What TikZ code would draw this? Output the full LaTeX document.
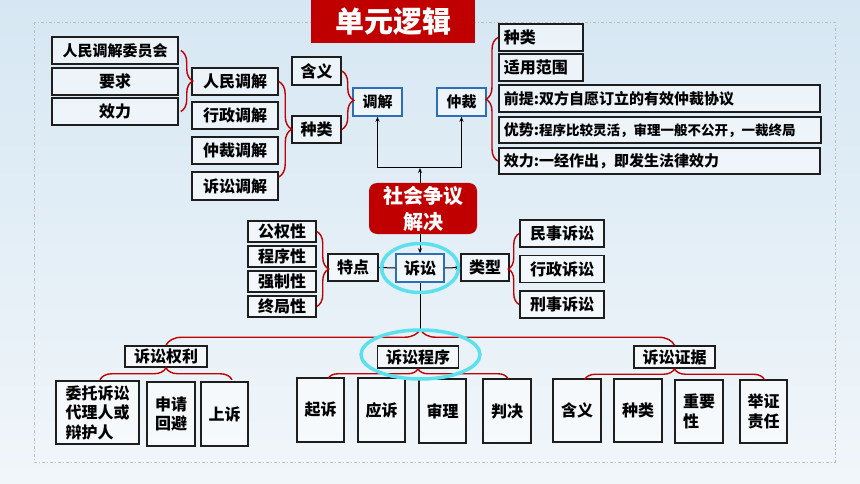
\documentclass[tikz,border=0pt]{standalone}
\usepackage{fontspec}
\setmainfont{Noto Sans CJK SC}
\usetikzlibrary{arrows.meta,decorations.pathreplacing,calc}
\definecolor{bgtop}{RGB}{214,231,243}
\definecolor{bgbot}{RGB}{241,246,250}
\definecolor{darkred}{RGB}{192,0,0}
\definecolor{boxline}{RGB}{30,30,30}
\definecolor{bluel}{RGB}{46,110,180}
\definecolor{cyanl}{RGB}{92,224,238}
\definecolor{frameg}{RGB}{185,190,195}
\begin{document}
\begin{tikzpicture}[x=1pt,y=-1pt,
  box/.style={draw=boxline, line width=1.5pt, fill=white, fill opacity=0.5, text opacity=1,
    inner sep=0pt, font=\fontsize{16}{19.5}\selectfont\bfseries, text=black, align=center},
  bbox/.style={box, draw=bluel},
  lbox/.style={box, anchor=west, align=left, inner xsep=5pt},
  rbrace/.style={draw=darkred, line width=1.4pt, decorate, decoration={brace, amplitude=#1}},
  arr/.style={draw=black, line width=1pt, -{Stealth[length=5pt,width=4pt]}},
  ring/.style={draw=cyanl, line width=3.5pt},
  f15/.style={font=\fontsize{15}{18}\selectfont\bfseries}
]
\useasboundingbox (0,0) rectangle (860,484);
\fill[top color=bgtop, bottom color=bgbot] (0,0) rectangle (860,484);
\draw[frameg, line width=0.8pt, dash pattern=on 3pt off 2pt on 1pt off 2pt] (34,22) rectangle (835,462);

% title
\node[draw=none, fill=darkred, text=white, inner sep=0pt, font=\fontsize{29}{34}\selectfont\bfseries,
  minimum width=164pt, minimum height=43pt] (title) at (393,21.5) {单元逻辑};

% left top
\node[box, f15, minimum width=126pt, minimum height=27pt] (m1) at (115,50.5) {人民调解委员会};
\node[box, minimum width=126pt, minimum height=27pt] (m2) at (115,81.5) {要求};
\node[box, minimum width=126pt, minimum height=27pt] (m3) at (115,111.5) {效力};
\node[box, minimum width=86pt, minimum height=27pt] (t1) at (235,81.5) {人民调解};
\node[box, minimum width=86pt, minimum height=27pt] (t2) at (235,115.5) {行政调解};
\node[box, minimum width=86pt, minimum height=27pt] (t3) at (235,150.5) {仲裁调解};
\node[box, minimum width=86pt, minimum height=28pt] (t4) at (235,186) {诉讼调解};
\node[box, minimum width=49pt, minimum height=28pt] (hy) at (316.5,71) {含义};
\node[box, minimum width=49pt, minimum height=27pt] (zl) at (316.5,129.5) {种类};
\node[bbox, f15, minimum width=49pt, minimum height=28pt] (tj) at (377.5,102) {调解};
\node[bbox, f15, minimum width=49pt, minimum height=28pt] (zc) at (461.5,102) {仲裁};

% right top
\node[lbox, text width=74pt, minimum height=27pt] (r1) at (498,37.5) {种类};
\node[lbox, text width=74pt, minimum height=27pt] (r2) at (498,67.5) {适用范围};
\node[lbox, f15, text width=311pt, minimum height=27pt] (r3) at (498,98.5) {前提:双方自愿订立的有效仲裁协议};
\node[lbox, f15, text width=312pt, minimum height=26pt] (r4) at (498,130) {优势:{\fontsize{13.5}{16}\selectfont 程序比较灵活，审理一般不公开，一裁终局}};
\node[lbox, f15, text width=311pt, minimum height=26pt] (r5) at (498,161) {效力:一经作出，即发生法律效力};

% centre
\node[draw=none, fill=darkred, rounded corners=8pt, text=white, inner sep=0pt, align=center,
  font=\fontsize{20}{26}\selectfont\bfseries, minimum width=108pt, minimum height=51pt] (sj) at (423,208.5) {社会争议\\解决};
\node[bbox, minimum width=48pt, minimum height=28pt] (ss) at (420,268) {诉讼};
\node[box, minimum width=50pt, minimum height=27pt] (td) at (353,267.5) {特点};
\node[box, minimum width=48pt, minimum height=27pt] (lx) at (485,267.5) {类型};
\node[box, minimum width=68pt, minimum height=21pt] (f1) at (282,231.5) {公权性};
\node[box, minimum width=68pt, minimum height=21pt] (f2) at (282,256.5) {程序性};
\node[box, minimum width=68pt, minimum height=21pt] (f3) at (282,281.5) {强制性};
\node[box, minimum width=68pt, minimum height=21pt] (f4) at (282,306.5) {终局性};
\node[box, minimum width=84pt, minimum height=27pt] (y1) at (562,233.5) {民事诉讼};
\node[box, minimum width=84pt, minimum height=27pt] (y2) at (562,269) {行政诉讼};
\node[box, minimum width=84pt, minimum height=27pt] (y3) at (562,304.5) {刑事诉讼};

% level 2
\node[box, minimum width=82pt, minimum height=21pt] (q1) at (166,356.5) {诉讼权利};
\node[box, minimum width=81pt, minimum height=22pt] (q2) at (418,357) {诉讼程序};
\node[box, minimum width=81pt, minimum height=22pt] (q3) at (674.5,357) {诉讼证据};

% level 3
\node[box, align=left, minimum width=83pt, minimum height=63pt] (a1) at (97.5,412.5) {委托诉讼\\代理人或\\辩护人};
\node[box, minimum width=48pt, minimum height=64pt] (a2) at (171,414) {申请\\回避};
\node[box, minimum width=47pt, minimum height=64pt] (a3) at (224.5,414) {上诉};
\node[box, minimum width=47pt, minimum height=64pt] (b1) at (320.5,410) {起诉};
\node[box, minimum width=47pt, minimum height=64pt] (b2) at (381.5,410) {应诉};
\node[box, minimum width=47pt, minimum height=64pt] (b3) at (442.5,411) {审理};
\node[box, minimum width=48pt, minimum height=64pt] (b4) at (507,411) {判决};
\node[box, minimum width=48pt, minimum height=63pt] (c1) at (577,410.5) {含义};
\node[box, minimum width=48pt, minimum height=63pt] (c2) at (638,410.5) {种类};
\node[box, align=left, minimum width=48pt, minimum height=63pt] (c3) at (699,411.5) {重要\\性};
\node[box, minimum width=47pt, minimum height=63pt] (c4) at (763.5,411.5) {举证\\责任};

% braces
\draw[rbrace=12pt] ($(m1.east)+(2,0)$) -- ($(m3.east)+(2,0)$);
\draw[rbrace=13pt] (t1.east) -- ($(t4.east)+(0,-9)$);
\draw[rbrace=12pt] (hy.east) -- (zl.east);
\draw[rbrace=12pt] (r5.west) -- (r1.west);
\draw[rbrace=12pt] (f1.east) -- (f4.east);
\draw[rbrace=11pt] (y3.west) -- (y1.west);
\draw[rbrace=16pt] (q1.north) -- (q3.north);
\draw[rbrace=12pt] ($(q1.south)+(-66,12)$) -- ($(q1.south)+(66,12)$);
\draw[rbrace=10pt] ($(q2.south)+(-90,10)$) -- ($(q2.south)+(90,10)$);
\draw[rbrace=11pt] ($(q3.south)+(-90,11)$) -- ($(q3.south)+(90,11)$);

% arrows
\coordinate (hub) at (420,168);
\draw[arr] (sj.north -| hub) -- (hub);
\draw[arr] (hub) -| (tj.south);
\draw[arr] (hub) -| (zc.south);
\draw[arr] (sj.south -| ss.north) -- (ss.north);
\draw[arr] (ss.west) -- (td.east);
\draw[arr] (ss.east) -- (lx.west);
\coordinate (btip) at ($(q1.north -| ss.south)+(0,-16)$);
\draw[line width=1pt] (ss.south) -- (btip);

% rings
\draw[ring] (ss.center) ellipse [x radius=38.5pt, y radius=24.5pt];
\draw[ring] ($(q2.center)+(2.5,-2.5)$) ellipse [x radius=59.5pt, y radius=24.5pt];
\end{tikzpicture}
\end{document}
